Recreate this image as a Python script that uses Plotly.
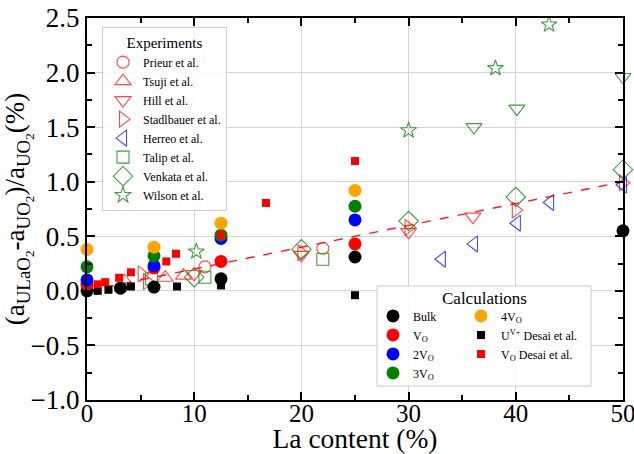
import plotly.graph_objects as go

# ---- experimental data: La content (%) vs lattice-parameter change (%) ----
prieur_x = [11.0, 22.0]
prieur_y = [0.22, 0.39]
tsuji_x = [3.5, 7.3, 9.0]
tsuji_y = [0.09, 0.12, 0.14]
hill_x = [10.0, 20.0, 30.0, 36.0]
hill_y = [0.155, 0.33, 0.54, 0.68]
stadlbauer_x = [5.1, 5.6, 20.0, 30.0, 40.0, 50.0]
stadlbauer_y = [0.155, 0.085, 0.35, 0.58, 0.74, 0.99]
herreo_x = [33.1, 36.1, 40.1, 43.2, 50.0]
herreo_y = [0.29, 0.43, 0.62, 0.81, 0.97]
talip_x = [6.0, 11.0, 22.0]
talip_y = [0.11, 0.125, 0.29]
venkata_x = [10.0, 20.0, 30.0, 40.0, 50.0]
venkata_y = [0.125, 0.38, 0.64, 0.86, 1.11]
wilson_x = [10.2, 30.0, 38.1, 43.1]
wilson_y = [0.36, 1.47, 2.04, 2.44]
wilson2_x = [36.1, 40.1, 50.0]
wilson2_y = [1.50, 1.67, 1.96]

# ---- calculations ----
calc_x = [0.0, 6.25, 12.5, 25.0]
bulk_x = [0.0, 3.125, 6.25, 12.5, 25.0, 50.0]
bulk_y = [0.0, 0.025, 0.035, 0.11, 0.31, 0.55]
vo1_y = [0.06, 0.21, 0.27, 0.43]
vo2_y = [0.10, 0.23, 0.48, 0.65]
vo3_y = [0.22, 0.32, 0.51, 0.775]
vo4_y = [0.38, 0.40, 0.62, 0.92]
desai_u_x = [1.0, 2.0, 4.1, 8.4, 12.5, 25.0]
desai_u_y = [0.0, 0.01, 0.04, 0.04, 0.05, -0.04]
desai_vo_x = [1.0, 1.7, 3.0, 4.1, 7.4, 8.3, 12.5, 16.7, 25.0]
desai_vo_y = [0.06, 0.08, 0.12, 0.17, 0.27, 0.34, 0.51, 0.805, 1.19]

# Vegard-type linear trend
trend_x = [0.0, 50.0]
trend_y = [0.0, 1.0]

SERIF = "Liberation Serif, Times New Roman, serif"
RED = "rgba(255,40,40,0.85)"
BLUE = "rgba(40,40,255,0.85)"
GREEN = "rgba(30,140,30,0.85)"

fig = go.Figure()


def open_marker(name, xs, ys, symbol, color, size=12, show=True):
    fig.add_trace(go.Scatter(
        x=xs, y=ys, mode="markers", name=name, legend="legend",
        showlegend=show, cliponaxis=False,
        marker=dict(symbol=symbol, size=size, color=color,
                    line=dict(color=color, width=1.1)),
    ))


open_marker("Prieur et al.", prieur_x, prieur_y, "circle-open", RED, 12)
open_marker("Tsuji et al.", tsuji_x, tsuji_y, "triangle-up-open", RED, 14)
open_marker("Hill et al.", hill_x, hill_y, "triangle-down-open", RED, 14)
open_marker("Stadlbauer et al.", stadlbauer_x, stadlbauer_y, "triangle-right-open", RED, 14)
open_marker("Herreo et al.", herreo_x, herreo_y, "triangle-left-open", BLUE, 14)
open_marker("Talip et al.", talip_x, talip_y, "square-open", GREEN, 12)
open_marker("Venkata et al.", venkata_x, venkata_y, "diamond-open", GREEN, 15)
open_marker("Wilson et al.", wilson_x, wilson_y, "star-open", GREEN, 12)
open_marker("Wilson et al. (2)", wilson2_x, wilson2_y, "triangle-down-open", GREEN, 14, show=False)

fig.add_trace(go.Scatter(
    x=trend_x, y=trend_y, mode="lines", showlegend=False,
    line=dict(color="rgba(255,0,0,0.9)", width=1.4, dash="dash"),
))


def filled(name, xs, ys, symbol, color, size, legend):
    fig.add_trace(go.Scatter(
        x=xs, y=ys, mode="markers", name=name, legend=legend,
        cliponaxis=False,
        marker=dict(symbol=symbol, size=size, color=color, line=dict(width=0)),
    ))


filled("Bulk", bulk_x, bulk_y, "circle", "black", 13, "legend2")
filled("V<sub>O</sub>", calc_x, vo1_y, "circle", "red", 13, "legend2")
filled("2V<sub>O</sub>", calc_x, vo2_y, "circle", "blue", 13, "legend2")
filled("3V<sub>O</sub>", calc_x, vo3_y, "circle", "green", 13, "legend2")
filled("4V<sub>O</sub>", calc_x, vo4_y, "circle", "orange", 13, "legend3")
filled("U<sup>V+</sup> Desai et al.", desai_u_x, desai_u_y, "square", "black", 8, "legend3")
filled("V<sub>O</sub> Desai et al.", desai_vo_x, desai_vo_y, "square", "red", 8, "legend3")

axis_common = dict(
    showline=True, linecolor="black", linewidth=2, mirror="ticks",
    ticks="inside", ticklen=8, tickwidth=2, tickcolor="black",
    showgrid=True, gridcolor="#d4d4d4", gridwidth=1, zeroline=False,
    automargin=False, ticklabeloverflow="allow",
)

fig.update_xaxes(
    range=[0, 50], dtick=10, tick0=0,
    tickfont=dict(family=SERIF, size=25, color="black"), ticklabelstandoff=-10,
    minor=dict(dtick=5, ticks="inside", ticklen=5, tickwidth=2, tickcolor="black", showgrid=False),
    title=dict(text="La content (%)", font=dict(family=SERIF, size=27.5, color="black"), standoff=8),
    **axis_common,
)
fig.update_yaxes(
    range=[-1.0, 2.5], dtick=0.5, tick0=0, tickformat=".1f",
    tickfont=dict(family=SERIF, size=27, color="black"),
    minor=dict(dtick=0.25, ticks="inside", ticklen=5, tickwidth=2, tickcolor="black", showgrid=False),
    title=dict(text="(a<sub>ULaO<sub>2</sub></sub>-a<sub>UO<sub>2</sub></sub>)/a<sub>UO<sub>2</sub></sub>(%)",
               font=dict(family=SERIF, size=27, color="black"), standoff=4),
    **axis_common,
)

# frame and heading of the "Calculations" key (two columns drawn by legend2 / legend3)
fig.add_shape(
    type="rect", xref="paper", yref="paper",
    x0=0.541, x1=0.9403, y0=0.0366, y1=0.2984,
    line=dict(color="#cccccc", width=1), fillcolor="rgba(255,255,255,0.85)",
    layer="above",
)
fig.add_annotation(
    text="Calculations", xref="paper", yref="paper", x=0.7407, y=0.266,
    xanchor="center", yanchor="middle", showarrow=False,
    font=dict(family=SERIF, size=17, color="black"),
)

calc_legend = dict(
    xanchor="left", yanchor="top", y=0.2581,
    bgcolor="rgba(0,0,0,0)", borderwidth=0,
    font=dict(family=SERIF, size=12, color="black"),
    traceorder="normal", itemsizing="trace",
)

fig.update_layout(
    width=634, height=454,
    margin=dict(l=87, r=11, t=18, b=54),
    plot_bgcolor="white", paper_bgcolor="white",
    font=dict(family=SERIF, color="black"),
    legend=dict(
        x=0.028, y=0.976, xanchor="left", yanchor="top",
        bgcolor="rgba(255,255,255,0.85)", bordercolor="#cccccc", borderwidth=1,
        font=dict(family=SERIF, size=12, color="black"),
        title=dict(text="Experiments", font=dict(family=SERIF, size=15), side="top center"),
        tracegroupgap=0, itemsizing="trace",
    ),
    legend2=dict(x=0.5336, **calc_legend),
    legend3=dict(x=0.6978, **calc_legend),
)

fig.write_html("out.html")
